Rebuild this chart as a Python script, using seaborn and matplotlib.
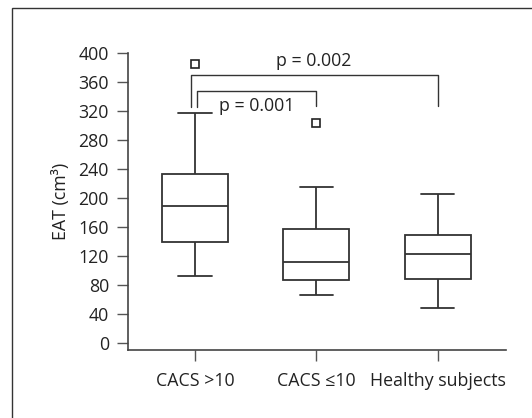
import pandas as pd
import seaborn as sns
import matplotlib.pyplot as plt
from matplotlib.patches import Rectangle

# ====================================================
# DATA
# ====================================================

groups = ["CACS >10", "CACS \u226410", "Healthy subjects"]

cacs_high = [92, 120, 139, 160, 189, 210, 233, 318, 385]
cacs_low = [66, 78, 87, 100, 112, 130, 157, 215, 303]
healthy = [48, 70, 88, 105, 122, 135, 149, 170, 205]

y_ticks = [0, 40, 80, 120, 160, 200, 240, 280, 320, 360, 400]

# significance brackets: (left group, right group, left foot, top, right foot)
brackets = [
    (-0.03, 2.0, 326, 370, 327),
    (0.02, 1.0, 326, 348, 327),
]
p_labels = ["p = 0.002", "p = 0.001"]
p_label_pos = [(0.98, 390), (0.505, 327)]

df = pd.DataFrame({
    "group": [groups[0]] * len(cacs_high)
    + [groups[1]] * len(cacs_low)
    + [groups[2]] * len(healthy),
    "EAT": cacs_high + cacs_low + healthy,
})

# ====================================================
# STYLE
# ====================================================

sns.set_style("ticks")
plt.rcParams["font.family"] = ["Open Sans", "DejaVu Sans"]
plt.rcParams["font.size"] = 12.8

line_col = "#333333"

fig = plt.figure(figsize=(5.32, 4.18), dpi=100)
ax = fig.add_axes([0.240, 0.1627, 0.712, 0.7098])

sns.boxplot(
    data=df,
    x="group",
    y="EAT",
    order=groups,
    width=0.546,
    color="white",
    linecolor=line_col,
    linewidth=1.3,
    flierprops=dict(
        marker="s",
        markersize=5.5,
        markerfacecolor="white",
        markeredgecolor="#222222",
        markeredgewidth=1.2,
    ),
    ax=ax,
)

# brackets and p values
for (x0, x1, y0, ytop, y1), label, (tx, ty) in zip(brackets, p_labels, p_label_pos):
    ax.plot([x0, x0, x1, x1], [y0, ytop, ytop, y1],
            color=line_col, lw=1.0, clip_on=False)
    ax.text(tx, ty, label, ha="center", va="center", color="#222222",
            clip_on=False)

ax.set_xlim(-0.554, 2.566)
ax.set_ylim(-10.1, 400)
ax.set_yticks(y_ticks)
ax.set_xlabel("")
ax.set_ylabel("EAT (cm\u00b3)", color="#222222", labelpad=6)

sns.despine(ax=ax)
for side in ["left", "bottom"]:
    ax.spines[side].set_color("#444444")
    ax.spines[side].set_linewidth(1.2)

ax.tick_params(axis="both", length=8, width=1.0, color="#555555",
               labelcolor="#222222")
ax.tick_params(axis="y", pad=5.5)
ax.tick_params(axis="x", pad=8)

# outer frame of the figure panel
fig.patches.append(Rectangle(
    (12 / 532, -0.1), 1.2, 1 - 8 / 418 + 0.1,
    transform=fig.transFigure, fill=False,
    edgecolor="#333333", linewidth=1.0,
))

plt.savefig("out.png", dpi=100)
